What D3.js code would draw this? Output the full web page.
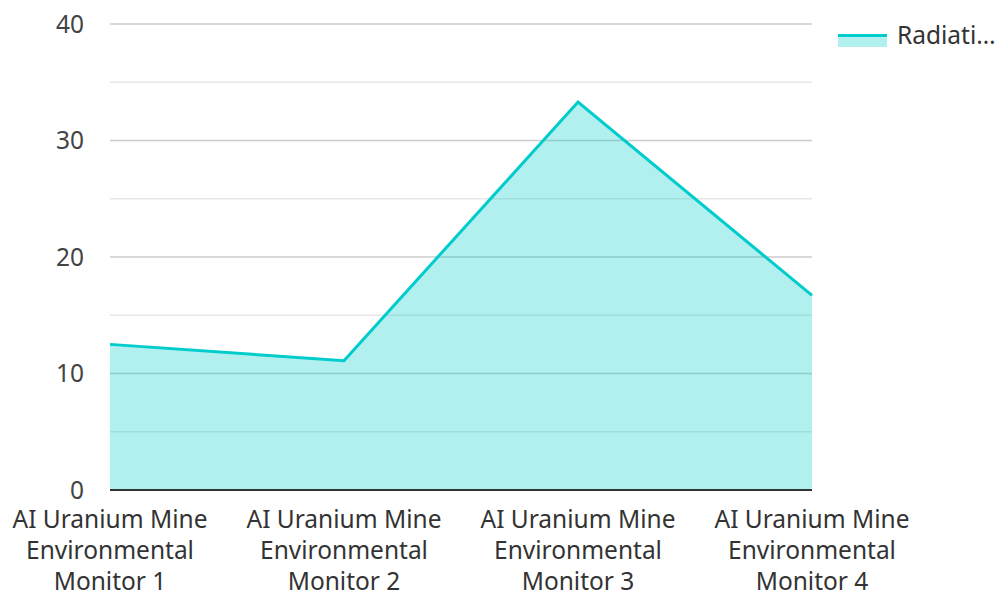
<!DOCTYPE html>
<html><head><meta charset="utf-8">
<script src="https://cdn.jsdelivr.net/npm/d3@7"></script>
<style>body{margin:0;background:#fff;font-family:"Noto Sans","Open Sans",sans-serif;}</style>
</head><body><svg id="c" width="998" height="597"></svg>
<script>
const categories = ["AI Uranium Mine Environmental Monitor 1","AI Uranium Mine Environmental Monitor 2","AI Uranium Mine Environmental Monitor 3","AI Uranium Mine Environmental Monitor 4"];
const categoryLines = [["AI Uranium Mine","Environmental","Monitor 1"],["AI Uranium Mine","Environmental","Monitor 2"],["AI Uranium Mine","Environmental","Monitor 3"],["AI Uranium Mine","Environmental","Monitor 4"]];
const radiation = [12.5, 11.1, 33.3, 16.7];
const seriesName = "Radiati\u2026";
const yTicks = [0, 10, 20, 30, 40];
const yMinor = [5, 15, 25, 35];

(function(){
const svg = d3.select("#c");
const pL = 110, pR = 812, pT = 24, pB = 490;
const color = "#00cccc";
const fs = 24.5;
const x = d3.scalePoint().domain(categories).range([pL, pR]);
const y = d3.scaleLinear().domain([0, 40]).range([pB, pT]);

svg.append("g").selectAll("line").data(yMinor).join("line")
  .attr("x1", pL).attr("x2", pR).attr("y1", d => y(d)).attr("y2", d => y(d))
  .attr("stroke", "#e6e6e6").attr("stroke-width", 1.3);
svg.append("g").selectAll("line").data(yTicks.filter(d => d > 0)).join("line")
  .attr("x1", pL).attr("x2", pR).attr("y1", d => y(d)).attr("y2", d => y(d))
  .attr("stroke", "#cccccc").attr("stroke-width", 1.3);

const data = categories.map((c, i) => ({c, v: radiation[i]}));
svg.append("path").datum(data)
  .attr("d", d3.area().x(d => x(d.c)).y0(y(0)).y1(d => y(d.v)))
  .attr("fill", color).attr("fill-opacity", 0.3);
svg.append("path").datum(data)
  .attr("d", d3.line().x(d => x(d.c)).y(d => y(d.v)))
  .attr("fill", "none").attr("stroke", color).attr("stroke-width", 3).attr("stroke-linejoin", "miter");

svg.append("line").attr("x1", pL).attr("x2", pR).attr("y1", y(0)).attr("y2", y(0))
  .attr("stroke", "#333").attr("stroke-width", 2);

svg.append("g").selectAll("text").data(yTicks).join("text")
  .attr("x", 84).attr("y", d => y(d)).attr("dy", "0.35em").attr("text-anchor", "end")
  .attr("font-size", fs).attr("fill", "#444").text(d => d);

const xl = svg.append("g").selectAll("text").data(categories).join("text")
  .attr("x", d => x(d)).attr("text-anchor", "middle")
  .attr("font-size", fs).attr("fill", "#333");
xl.each(function(d, i) {
  const t = d3.select(this);
  categoryLines[i].forEach((ln, j) => {
    t.append("tspan").attr("x", x(d)).attr("y", 528 + j * 31).text(ln);
  });
});

const lg = svg.append("g");
lg.append("rect").attr("x", 838).attr("y", 35).attr("width", 49).attr("height", 12)
  .attr("fill", color).attr("fill-opacity", 0.3);
lg.append("line").attr("x1", 838).attr("x2", 887).attr("y1", 35.5).attr("y2", 35.5)
  .attr("stroke", color).attr("stroke-width", 3);
lg.append("text").attr("x", 897).attr("y", 44).attr("font-size", fs).attr("fill", "#333").text(seriesName);
})();
</script></body></html>
